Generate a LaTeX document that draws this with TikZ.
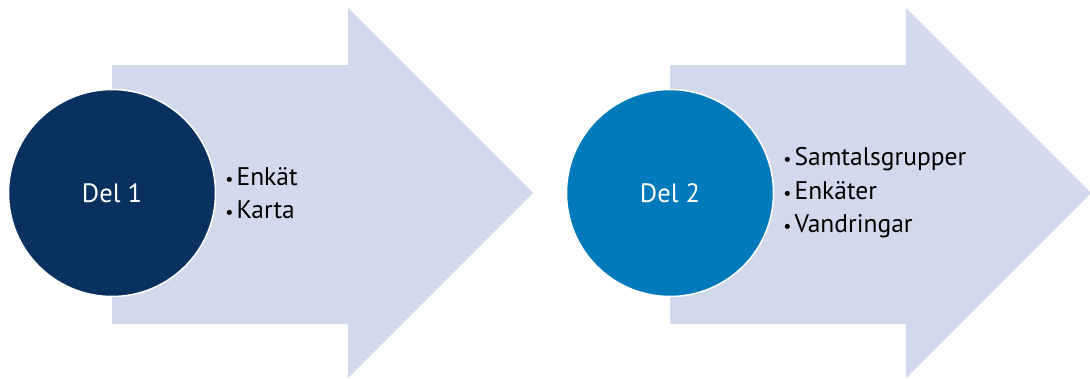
\documentclass[tikz,border=0pt]{standalone}
\usepackage{fontspec}
\setmainfont{PT Sans}
\usetikzlibrary{positioning}
\definecolor{arrowfill}{RGB}{210,217,236}
\definecolor{navy}{RGB}{9,49,95}
\definecolor{sea}{RGB}{0,122,186}
\newcommand{\itembullet}{{\fontsize{18}{20}\selectfont•}\hspace{3pt}}
\begin{document}
\begin{tikzpicture}[x=1pt,y=-1pt,
  part/.style={circle,draw=white,line width=1.5pt,minimum size=207pt,inner sep=0pt,
    text=white,font=\fontsize{26.5}{30}\selectfont},
  items/.style={anchor=west,align=left,inner sep=0pt,
    font=\fontsize{25.5}{33.5}\selectfont}]
\useasboundingbox (0,0) rectangle (1090,378);

% arrows
\fill[arrowfill] (112,65) -- (348,65) -- (348,8) -- (533,193)
  -- (348,378) -- (348,324) -- (112,324) -- cycle;
\fill[arrowfill] (670,65) -- (906,65) -- (906,8) -- (1091,193)
  -- (906,378) -- (906,324) -- (670,324) -- cycle;

% circles
\node[part,fill=navy] (del1) at (112,193) {Del 1};
\node[part,fill=sea] (del2) at (670,193) {Del 2};

% lists
\node[items,right=9pt of del1] (list1) {\itembullet Enkät\\\itembullet Karta};
\node[items,right=9pt of del2] (list2)
  {\itembullet Samtalsgrupper\\\itembullet Enkäter\\\itembullet Vandringar};

\end{tikzpicture}
\end{document}
